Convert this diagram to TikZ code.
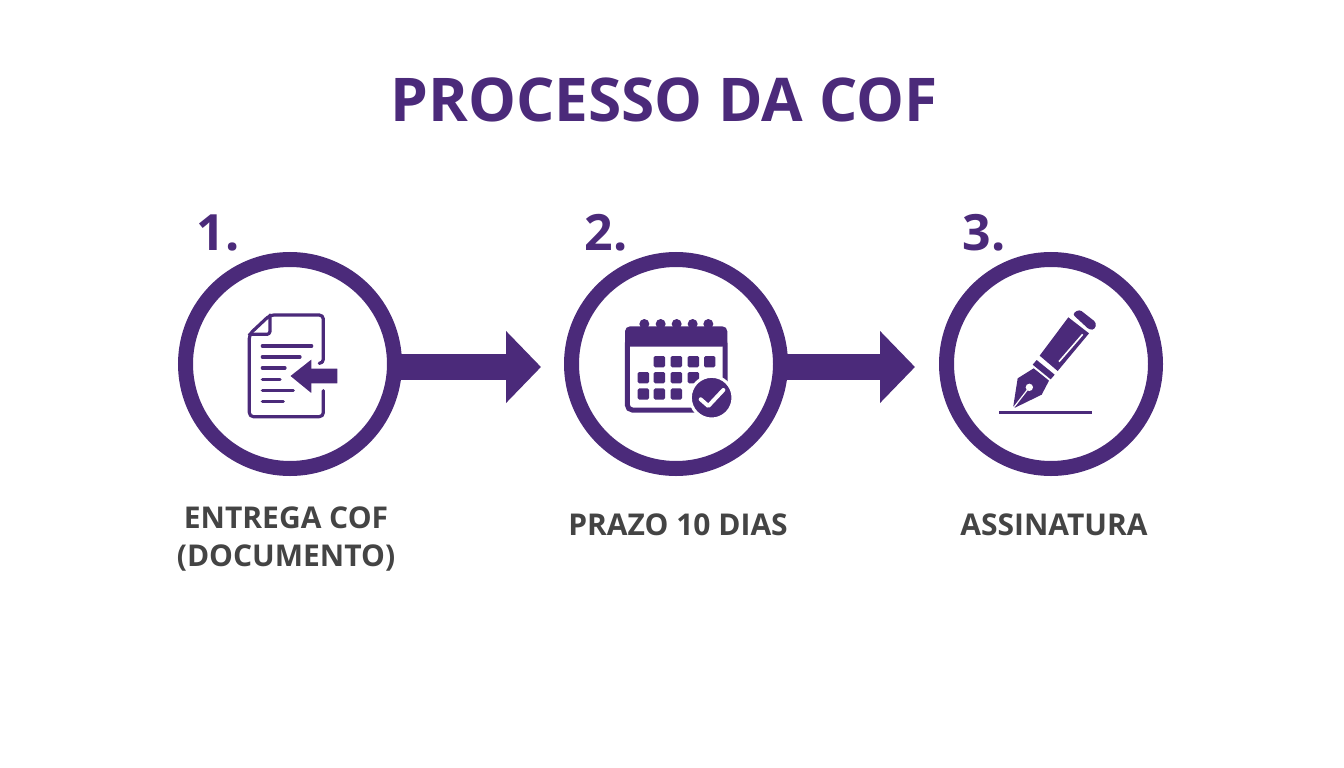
\documentclass[tikz,border=0pt]{standalone}
\usepackage{fontspec}
\usepackage{tikz}
\usetikzlibrary{arrows.meta}
\setmainfont{Open Sans}
\definecolor{cofpurple}{RGB}{75,42,122}
\definecolor{cofgray}{RGB}{68,68,68}
\tikzset{
  ring/.style={draw=cofpurple, line width=15pt, fill=white, circle, minimum size=209pt, inner sep=0pt},
  flowarrow/.style={draw=cofpurple, line width=26pt, -{Triangle[length=35pt,width=70pt]}},
  titlelabel/.style={text=cofpurple, font=\bfseries\fontsize{60.3}{60}\selectfont},
  numlabel/.style={text=cofpurple, font=\bfseries\fontsize{50}{50}\selectfont},
  steplabel/.style={text=cofgray, align=center, font=\bfseries\fontsize{30}{38}\selectfont},
  iconline/.style={draw=cofpurple, line width=3.2pt, line cap=round, line join=round},
  iconfill/.style={fill=cofpurple},
  iconcell/.style={fill=cofpurple, rounded corners=1.5pt},
}
\begin{document}
\begin{tikzpicture}[x=1pt, y=-1pt]
  \useasboundingbox (0, 0) rectangle (1344, 768);
  \node[titlelabel] (title) at (664, 100) {PROCESSO DA COF};

  % arrows go under the rings
  \coordinate (tip1) at (541, 367);
  \coordinate (tip2) at (915, 367);
  \coordinate (start1) at (395, 367);
  \coordinate (start2) at (781, 367);
  \draw[flowarrow] (start1) -- (tip1);
  \draw[flowarrow] (start2) -- (tip2);

  \node[ring] (step1) at (290, 364) {};
  \node[ring] (step2) at (676, 364) {};
  \node[ring] (step3) at (1051, 364) {};

  \node[numlabel] (num1) at (218, 233) {1.};
  \node[numlabel] (num2) at (606, 233) {2.};
  \node[numlabel] (num3) at (984, 233) {3.};

  \node[steplabel] (label1) at (286, 539) {ENTREGA COF\\(DOCUMENTO)};
  \node[steplabel] (label2) at (678, 525) {PRAZO 10 DIAS};
  \node[steplabel] (label3) at (1054, 525) {ASSINATURA};

  % document icon
  \begin{scope}[shift={(230, 295)}, x=1/3*1pt, y=-1/3*1pt]
    \draw[iconline, rounded corners=4pt] (270, 205) -- (280, 205) -- (280, 60) -- (120, 60) -- (58, 118) -- (58, 365) -- (280, 365) -- (280, 287);
    \draw[iconline, rounded corners=3pt] (120, 60) -- (120, 118) -- (58, 118);
    \foreach \y/\xend in {153/245, 186/210, 219/165, 253/150, 286/190, 319/160} {
      \draw[iconline] (97, \y) -- (\xend, \y);
    }
    \fill[iconfill, draw=white, line width=2pt] (176, 243) -- (247, 187) -- (247, 218) -- (325, 218) -- (325, 268) -- (247, 268) -- (247, 301) -- cycle;
  \end{scope}

  % calendar icon
  \begin{scope}[shift={(610, 305)}, x=1/3*1pt, y=-1/3*1pt]
    \foreach \x in {103, 152, 200, 248, 295} {
      \fill[iconfill] (\x, 57) circle (15);
    }
    \fill[iconfill, rounded corners=5pt] (45, 125) -- (45, 64) -- (352, 64) -- (352, 125) -- cycle;
    \draw[draw=cofpurple, line width=5pt, rounded corners=5pt] (52, 100) rectangle (345, 315);
    \foreach \x/\y in {148/170, 199/170, 250/170, 299/170, 100/218, 148/218, 199/218, 250/218, 100/267, 148/267, 199/267} {
      \fill[iconcell] (\x-17, \y-17) rectangle (\x+17, \y+17);
    }
    \fill[iconfill, draw=white, line width=3pt] (305, 278) circle (64);
    \draw[draw=white, line width=4pt, line cap=round, line join=round] (272, 283) -- (295, 303) -- (340, 255);
  \end{scope}

  % pen icon
  \begin{scope}[shift={(985, 300)}, x=1/3*1pt, y=-1/3*1pt]
    \fill[iconfill, rounded corners=3pt] (262, 42) -- (283, 28) -- (334, 68) -- (330, 88) -- (314, 90) -- cycle;
    \fill[iconfill] (250, 52) -- (312, 100) -- (218, 213) -- (164, 167) -- cycle;
    \fill[iconfill] (155, 180) -- (209, 224) -- (197, 238) -- (143, 194) -- cycle;
    \fill[iconfill] (146, 205) -- (192, 242) -- (170, 284) -- (90, 323) -- (85, 318) -- (98, 235) -- cycle;
    \draw[draw=white, line width=1.6pt] (293, 103) -- (222, 185);
    \fill[white] (133, 262) circle (11);
    \draw[draw=white, line width=1.2pt] (133, 262) -- (88, 320);
    \draw[draw=cofpurple, line width=3.4pt] (42, 338) -- (320, 338);
  \end{scope}
\end{tikzpicture}
\end{document}
